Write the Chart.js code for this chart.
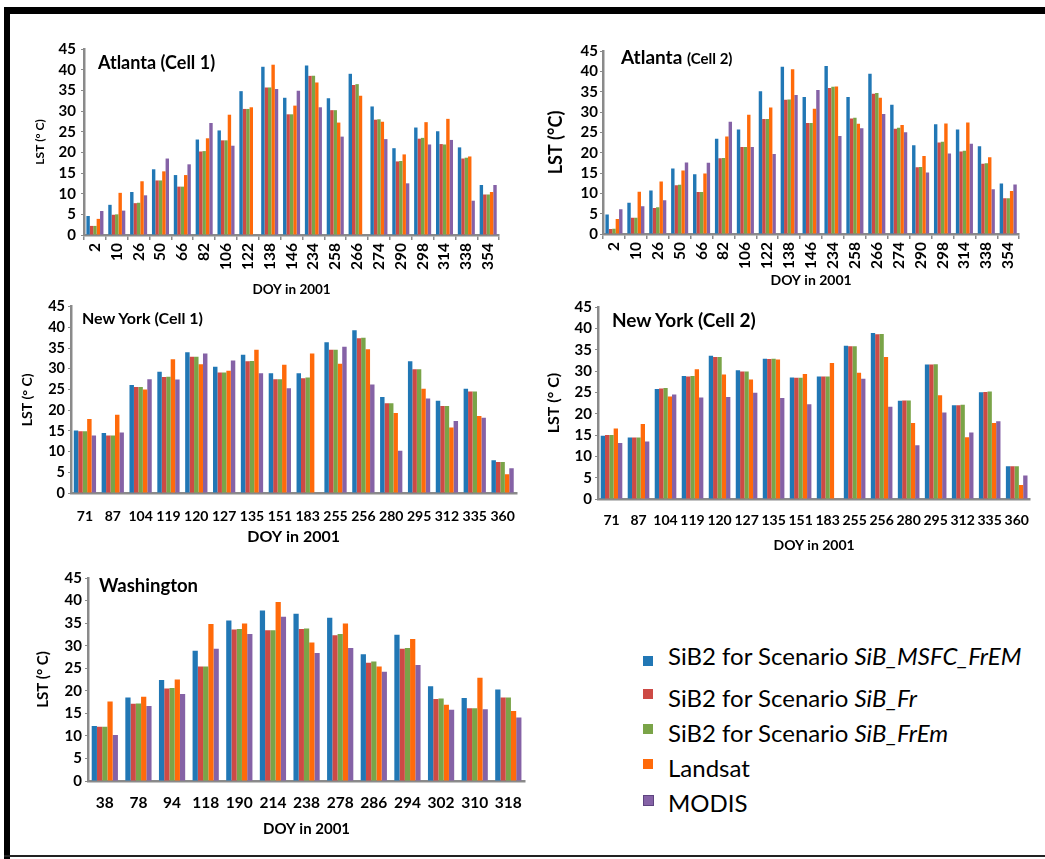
<!DOCTYPE html>
<html>
<head>
<meta charset="utf-8">
<script src="https://cdn.jsdelivr.net/npm/chart.js@4.4.1/dist/chart.umd.min.js"></script>
<style>
  body { margin: 0; background: #fff; }
  #page { position: relative; width: 1045px; height: 859px; overflow: hidden; font-family: Lato, 'Open Sans', sans-serif; }
  .frameTop { position: absolute; left: 4px; top: 7px; width: 1041px; height: 7px; background: #000; border-top-left-radius: 3px; }
  .frameLeft { position: absolute; left: 4px; top: 7px; width: 6px; height: 852px; background: #000; }
  .frameBottom { position: absolute; left: 4px; top: 855px; width: 1041px; height: 2px; background: #222; }
  canvas { position: absolute; }
  .ttl { position: absolute; font-weight: bold; line-height: 1; white-space: nowrap; color: #000; }
  .leg { position: absolute; left: 668px; font-size: 24px; line-height: 1; white-space: nowrap; color: #000; }
  .sw { position: absolute; width: 10px; height: 10px; left: 643px; }
</style>
</head>
<body>
<div id="page">
  <div class="frameTop"></div>
  <div class="frameLeft"></div>
  <div class="frameBottom"></div>

  <canvas id="c1" style="left:20px;top:35px" width="490" height="265"></canvas>
  <canvas id="c2" style="left:530px;top:40px" width="500" height="252"></canvas>
  <canvas id="c3" style="left:10px;top:295px" width="520" height="253"></canvas>
  <canvas id="c4" style="left:530px;top:295px" width="512" height="261"></canvas>
  <canvas id="c5" style="left:20px;top:566px" width="515" height="274"></canvas>

  <div class="ttl" style="left:98px;top:53px;font-size:18px">Atlanta (Cell 1)</div>
  <div class="ttl" style="left:621px;top:47px;font-size:19px">Atlanta <span style="font-size:15px">(Cell 2)</span></div>
  <div class="ttl" style="left:82px;top:310px;font-size:16px">New York (Cell 1)</div>
  <div class="ttl" style="left:612px;top:310px;font-size:19px">New York (Cell 2)</div>
  <div class="ttl" style="left:99px;top:576px;font-size:18.5px">Washington</div>

  <div class="sw" style="top:656px;background:#2177B5"></div>
  <div class="sw" style="top:689px;background:#CD4A45"></div>
  <div class="sw" style="top:724px;background:#7AA448"></div>
  <div class="sw" style="top:759px;background:#FF6A0A"></div>
  <div class="sw" style="top:795px;background:#8562A6;border:1px solid #5e4480;width:9px;height:9px"></div>
  <div class="leg" style="top:644px">SiB2 for Scenario <i>SiB_MSFC_FrEM</i></div>
  <div class="leg" style="top:686px">SiB2 for Scenario <i>SiB_Fr</i></div>
  <div class="leg" style="top:721px">SiB2 for Scenario <i>SiB_FrEm</i></div>
  <div class="leg" style="top:756px">Landsat</div>
  <div class="leg" style="top:791px">MODIS</div>
</div>

<script>
// series order: SiB_MSFC_FrEM, SiB_Fr, SiB_FrEm, Landsat, MODIS
const seriesNames = ['SiB2 for Scenario SiB_MSFC_FrEM', 'SiB2 for Scenario SiB_Fr', 'SiB2 for Scenario SiB_FrEm', 'Landsat', 'MODIS']
const seriesColors = ['#2177B5', '#CD4A45', '#7AA448', '#FF6A0A', '#8562A6']
const yTicks = [0, 5, 10, 15, 20, 25, 30, 35, 40, 45]

// Atlanta (Cell 1)
const atl1Doy = ['2', '10', '26', '50', '66', '82', '106', '122', '138', '146', '234', '258', '266', '274', '290', '298', '314', '338', '354']
const atl1MsfcFrEM = [4.6, 7.3, 10.4, 15.9, 14.5, 23.1, 25.3, 34.8, 40.7, 33.2, 41.0, 33.1, 39.0, 31.1, 21.0, 26.0, 25.1, 21.2, 12.1]
const atl1Fr = [2.2, 4.9, 7.7, 13.2, 11.7, 20.2, 22.9, 30.5, 35.7, 29.2, 38.5, 30.2, 36.3, 27.9, 17.8, 23.3, 22.0, 18.5, 9.8]
const atl1FrEm = [2.2, 5.0, 7.8, 13.2, 11.7, 20.3, 22.9, 30.5, 35.7, 29.2, 38.5, 30.2, 36.5, 28.0, 17.9, 23.5, 21.9, 18.7, 9.8]
const atl1Landsat = [3.9, 10.2, 13.0, 15.4, 14.5, 23.4, 29.1, 30.9, 41.2, 31.3, 36.9, 27.2, 33.7, 27.4, 19.5, 27.3, 28.1, 19.0, 10.4]
const atl1Modis = [5.8, 5.9, 9.6, 18.5, 17.1, 27.1, 21.6, null, 35.3, 34.9, 30.9, 23.8, null, 23.2, 12.5, 21.9, 23.0, 8.3, 12.1]

// Atlanta (Cell 2)
const atl2Doy = ['2', '10', '26', '50', '66', '82', '106', '122', '138', '146', '234', '258', '266', '274', '290', '298', '314', '338', '354']
const atl2MsfcFrEM = [4.8, 7.7, 10.7, 16.1, 14.7, 23.4, 25.7, 35.1, 41.1, 33.7, 41.3, 33.7, 39.4, 31.8, 21.8, 27.0, 25.7, 21.6, 12.4]
const atl2Fr = [1.2, 4.0, 6.4, 12.0, 10.3, 18.6, 21.4, 28.3, 33.0, 27.3, 35.9, 28.4, 34.5, 25.9, 16.4, 22.5, 20.3, 17.3, 8.8]
const atl2FrEm = [1.3, 4.0, 6.6, 12.1, 10.3, 18.7, 21.4, 28.3, 33.1, 27.3, 36.2, 28.6, 34.7, 26.1, 16.5, 22.7, 20.5, 17.4, 8.8]
const atl2Landsat = [3.7, 10.4, 12.9, 15.6, 14.9, 24.0, 29.3, 31.1, 40.5, 30.8, 36.3, 27.1, 33.5, 26.8, 19.2, 27.2, 27.4, 18.9, 10.6]
const atl2Modis = [6.1, 6.8, 8.3, 17.6, 17.5, 27.6, 21.4, 19.7, 34.2, 35.4, 24.1, 26.0, 29.5, 25.0, 15.1, 19.8, 22.2, 11.0, 12.2]

// New York (Cell 1)
const ny1Doy = ['71', '87', '104', '119', '120', '127', '135', '151', '183', '255', '256', '280', '295', '312', '335', '360']
const ny1MsfcFrEM = [15.1, 14.5, 26.1, 29.3, 34.0, 30.5, 33.4, 28.9, 28.9, 36.4, 39.3, 23.2, 31.8, 22.3, 25.2, 7.9]
const ny1Fr = [14.9, 13.9, 25.6, 28.0, 32.9, 29.1, 31.8, 27.5, 27.7, 34.6, 37.4, 21.7, 29.9, 21.0, 24.5, 7.5]
const ny1FrEm = [14.9, 13.9, 25.6, 28.1, 32.9, 29.1, 31.9, 27.5, 27.9, 34.6, 37.5, 21.7, 29.9, 21.0, 24.5, 7.5]
const ny1Landsat = [17.9, 18.9, 25.0, 32.3, 31.1, 29.5, 34.6, 31.0, 33.7, 31.2, 34.7, 19.3, 25.2, 15.8, 18.6, 4.5]
const ny1Modis = [13.9, 14.6, 27.5, 27.4, 33.7, 32.0, 28.9, 25.3, null, 35.3, 26.2, 10.2, 22.8, 17.4, 18.2, 6.0]

// New York (Cell 2)
const ny2Doy = ['71', '87', '104', '119', '120', '127', '135', '151', '183', '255', '256', '280', '295', '312', '335', '360']
const ny2MsfcFrEM = [14.8, 14.4, 25.8, 28.8, 33.6, 30.2, 32.9, 28.5, 28.7, 35.9, 38.9, 23.0, 31.5, 22.0, 25.0, 7.7]
const ny2Fr = [15.0, 14.4, 25.9, 28.7, 33.3, 29.9, 32.8, 28.4, 28.7, 35.8, 38.6, 23.1, 31.5, 22.0, 25.1, 7.7]
const ny2FrEm = [15.0, 14.4, 26.0, 28.8, 33.3, 29.9, 32.9, 28.4, 28.7, 35.8, 38.7, 23.1, 31.6, 22.1, 25.2, 7.7]
const ny2Landsat = [16.5, 17.6, 24.0, 30.4, 29.2, 28.0, 32.7, 29.3, 31.9, 29.6, 33.3, 17.8, 24.3, 14.5, 17.8, 3.3]
const ny2Modis = [13.1, 13.5, 24.5, 23.8, 23.9, 24.9, 23.7, 22.2, null, 28.2, 21.6, 12.6, 20.3, 15.6, 18.2, 5.5]

// Washington
const wasDoy = ['38', '78', '94', '118', '190', '214', '238', '278', '286', '294', '302', '310', '318']
const wasMsfcFrEM = [12.2, 18.5, 22.4, 28.9, 35.6, 37.8, 37.1, 36.2, 28.1, 32.4, 21.0, 18.4, 20.3]
const wasFr = [12.0, 17.1, 20.5, 25.4, 33.6, 33.4, 33.7, 32.3, 26.2, 29.3, 18.2, 16.1, 18.5]
const wasFrEm = [12.0, 17.2, 20.6, 25.4, 33.7, 33.4, 33.8, 32.6, 26.5, 29.5, 18.3, 16.1, 18.5]
const wasLandsat = [17.6, 18.7, 22.5, 34.8, 34.9, 39.7, 30.7, 34.9, 25.4, 31.5, 16.9, 22.9, 15.5]
const wasModis = [10.2, 16.6, 19.3, 29.3, 32.6, 36.4, 28.4, 29.5, 24.2, 25.7, 15.8, 15.9, 14.1]

const FONT = 'Lato, "Open Sans", sans-serif'

function makePanel(id, doy, series, o) {
	new Chart(document.getElementById(id), {
		type: 'bar',
		data: {
			labels: doy,
			datasets: series.map((vals, i) => ({
				label: seriesNames[i],
				data: vals,
				backgroundColor: seriesColors[i],
				borderWidth: 0,
				categoryPercentage: o.catPct,
				barPercentage: 1,
			})),
		},
		options: {
			responsive: false,
			animation: false,
			layout: { padding: o.pad },
			plugins: {
				legend: { display: false },
				tooltip: { enabled: false },
			},
			scales: {
				x: {
					afterFit: s => { s.height = o.xH },
					grid: {
						drawOnChartArea: false,
						drawTicks: o.xTickMarks,
						tickLength: 5,
						color: '#8a8a8a',
						lineWidth: 1.5,
					},
					border: { color: '#8a8a8a', width: 2.5 },
					ticks: {
						autoSkip: false,
						minRotation: o.rot,
						maxRotation: o.rot,
						padding: o.xPad,
						color: '#000',
						font: { family: FONT, size: o.xFont, weight: 'bold' },
					},
					title: {
						display: true,
						text: 'DOY in 2001',
						color: '#000',
						padding: { top: 0, bottom: 0 },
						font: { family: FONT, size: o.xTitleFont, weight: 'bold' },
					},
				},
				y: {
					min: 0,
					max: 45,
					afterFit: s => { s.width = o.yW },
					afterBuildTicks: s => { s.ticks = yTicks.map(v => ({ value: v })) },
					grid: {
						drawOnChartArea: false,
						tickLength: 3,
						color: '#8a8a8a',
					},
					border: { color: '#8a8a8a', width: 2.5 },
					ticks: {
						autoSkip: false,
						padding: o.yPad,
						color: '#000',
						font: { family: FONT, size: o.yFont, weight: 'bold' },
					},
					title: {
						display: true,
						text: o.yTitle,
						color: '#000',
						padding: { top: 0, bottom: 0 },
						font: { family: FONT, size: o.yTitleFont, weight: 'bold' },
					},
				},
			},
		},
	})
}

makePanel('c1', atl1Doy, [atl1MsfcFrEM, atl1Fr, atl1FrEm, atl1Landsat, atl1Modis], {
	pad: { left: 13, top: 10, right: 8, bottom: 2 }, yW: 51, xH: 63,
	catPct: 0.78, rot: 90, xTickMarks: true, xPad: 3, yPad: 5,
	xFont: 15.5, yFont: 15, xTitleFont: 13.5, yTitle: 'LST (° C)', yTitleFont: 12,
})
makePanel('c2', atl2Doy, [atl2MsfcFrEM, atl2Fr, atl2FrEm, atl2Landsat, atl2Modis], {
	pad: { left: 15, top: 10, right: 7, bottom: 3 }, yW: 58, xH: 55,
	catPct: 0.78, rot: 90, xTickMarks: true, xPad: 3, yPad: 2,
	xFont: 15.5, yFont: 15, xTitleFont: 14, yTitle: 'LST (°C)', yTitleFont: 18,
})
makePanel('c3', ny1Doy, [ny1MsfcFrEM, ny1Fr, ny1FrEm, ny1Landsat, ny1Modis], {
	pad: { left: 9, top: 10, right: 7, bottom: 2 }, yW: 52, xH: 53,
	catPct: 0.8, rot: 0, xTickMarks: false, xPad: 15, yPad: 3,
	xFont: 14, yFont: 14.5, xTitleFont: 16, yTitle: 'LST (° C)', yTitleFont: 14,
})
makePanel('c4', ny2Doy, [ny2MsfcFrEM, ny2Fr, ny2FrEm, ny2Landsat, ny2Modis], {
	pad: { left: 14, top: 10, right: 4, bottom: 2 }, yW: 54, xH: 55,
	catPct: 0.8, rot: 0, xTickMarks: false, xPad: 13, yPad: 3,
	xFont: 14, yFont: 15, xTitleFont: 14, yTitle: 'LST (° C)', yTitleFont: 16,
})
makePanel('c5', wasDoy, [wasMsfcFrEM, wasFr, wasFrEm, wasLandsat, wasModis], {
	pad: { left: 14, top: 10, right: 5, bottom: 2 }, yW: 54, xH: 57,
	catPct: 0.78, rot: 0, xTickMarks: false, xPad: 13, yPad: 3,
	xFont: 15.5, yFont: 15, xTitleFont: 15, yTitle: 'LST (° C)', yTitleFont: 15,
})
</script>
</body>
</html>
